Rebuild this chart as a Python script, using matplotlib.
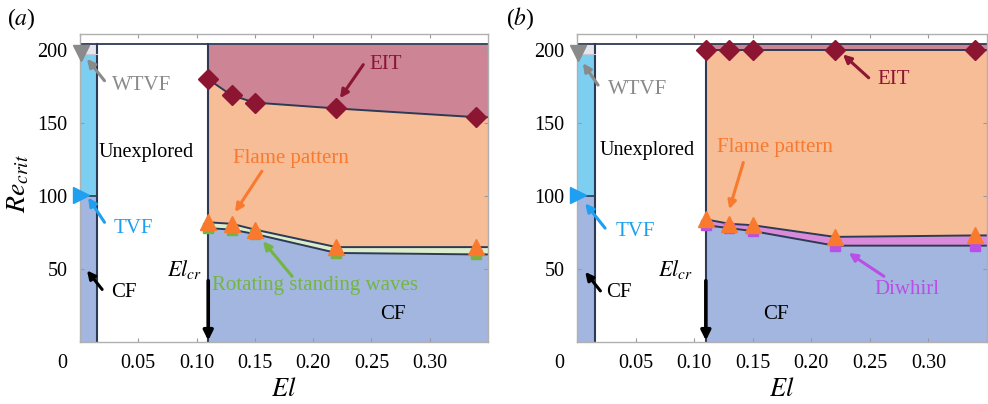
import numpy as np
import matplotlib.pyplot as plt
from matplotlib.transforms import ScaledTranslation

plt.rcParams['font.family'] = ['Liberation Serif', 'DejaVu Serif']
plt.rcParams['mathtext.fontset'] = 'stix'

# ---------------- data ----------------
El = [0.11, 0.13, 0.15, 0.22, 0.34]
# panel (a)
a_EIT = [180, 169, 164, 160, 154]
a_flame = [82, 81, 77, 65, 65]
a_rsw = [78, 77, 74, 61, 60]
# panel (b)
b_EIT = [200, 200, 200, 200, 200]
b_flame = [84, 81, 80, 72, 73]
b_diwhirl = [80, 78, 76, 66, 66]
# Newtonian (El = 0)
Re_TVF = 100
Re_WTVF = 197
xticks = [0, 0.05, 0.10, 0.15, 0.20, 0.25, 0.30]
xticklabels = ['0', '0.05', '0.10', '0.15', '0.20', '0.25', '0.30']
yticks = [50, 100, 150, 200]

# ---------------- style ----------------
XMAX, YMAX, RETOP, STRIP = 0.35, 211, 204, 0.015
C_CF = '#a2b6df'
C_TVF = '#7dcff2'
C_WTVF = '#e6e7ee'
C_FLAME = '#f6bd97'
C_EIT = '#cd8596'
C_RSW = '#dcedcc'
C_DIW = '#d98bd9'
NAVY = '#2c3a55'
DRED = '#8c1532'
ORANGE = '#f97a2e'
GREEN = '#74b542'
PURPLE = '#b94fe6'
BLUE = '#1f9ff0'
GRAY = '#8a8a8a'
FS = 15
TS = 14.5

fig = plt.figure(figsize=(9.88, 4.04), dpi=100)
axA = fig.add_axes([80/988, 62/404, 408/988, 308/404])
axB = fig.add_axes([577/988, 62/404, 410/988, 308/404])


def arrow(ax, tail, head, color, lw=2.2, ms=12):
    ax.annotate('', xy=head, xytext=tail,
                arrowprops=dict(arrowstyle='-|>', color=color, lw=lw,
                                mutation_scale=ms, shrinkA=0, shrinkB=0))


def panel(ax, eit, up, low, mid_color, sq_color):
    x = np.array(El + [XMAX])
    eit_e = np.array(eit + [eit[-1]])
    up_e = np.array(up + [up[-1]])
    low_e = np.array(low + [low[-1]])
    # Newtonian strip
    ax.fill_between([0, STRIP], 0, Re_TVF, color=C_CF, lw=0)
    ax.fill_between([0, STRIP], Re_TVF, Re_WTVF, color=C_TVF, lw=0)
    ax.fill_between([0, STRIP], Re_WTVF, RETOP, color=C_WTVF, lw=0)
    ax.plot([0, STRIP], [Re_TVF, Re_TVF], color=NAVY, lw=1.2)
    ax.plot([STRIP, STRIP], [0, RETOP], color=NAVY, lw=1.5)
    ax.plot([0, STRIP], [Re_WTVF, Re_WTVF], color='#c8c8d2', lw=0.8)
    # viscoelastic region
    ax.fill_between(x, 0, low_e, color=C_CF, lw=0)
    ax.fill_between(x, low_e, up_e, color=mid_color, lw=0)
    ax.fill_between(x, up_e, eit_e, color=C_FLAME, lw=0)
    ax.fill_between(x, eit_e, RETOP, color=C_EIT, lw=0)
    for yy in (low_e, up_e, eit_e):
        ax.plot(x, yy, color=NAVY, lw=1.4)
    ax.plot([El[0], El[0]], [0, RETOP], color=NAVY, lw=1.5)
    ax.plot([0, XMAX], [RETOP, RETOP], color=NAVY, lw=1.3)
    # markers
    ax.plot(El, low, 's', color=sq_color, ms=7, clip_on=False, zorder=4)
    ax.plot(El, up, '^', color=ORANGE, ms=11, clip_on=False, zorder=5)
    ax.plot(El, eit, 'D', color=DRED, ms=10, clip_on=False, zorder=5)
    ax.plot([0.001], [Re_WTVF + 1], 'v', color=GRAY, ms=11, clip_on=False, zorder=6)
    ax.plot([0.0005], [Re_TVF + 1], '>', color=BLUE, ms=11, clip_on=False, zorder=6)

    ax.set_xlim(0, XMAX)
    ax.set_ylim(0, YMAX)
    ax.set_xticks(xticks)
    ax.set_xticklabels(xticklabels)
    ax.set_yticks(yticks)
    ax.tick_params(direction='in', length=3, color='#999999', top=True,
                   right=True, labelsize=TS, pad=9)
    for s in ax.spines.values():
        s.set_color('#b0b0b0')
        s.set_linewidth(1.0)
    lab = ax.xaxis.get_major_ticks()[0].label1
    lab.set_transform(lab.get_transform() +
                      ScaledTranslation(-18/100, 0, fig.dpi_scale_trans))
    ax.set_xlabel('$El$', fontsize=19, labelpad=3)


panel(axA, a_EIT, a_flame, a_rsw, C_RSW, GREEN)
panel(axB, b_EIT, b_flame, b_diwhirl, C_DIW, PURPLE)

axA.set_ylabel('$Re_{crit}$', fontsize=20)
axA.yaxis.set_label_coords(-0.118, 0.515)

# ---------- annotations panel (a) ----------
ax = axA
ax.text(0.053, 176, 'WTVF', color=GRAY, fontsize=FS, ha='center', va='center')
arrow(ax, (0.021, 179), (0.006, 194), GRAY)
ax.text(0.046, 78, 'TVF', color=BLUE, fontsize=FS, ha='center', va='center')
arrow(ax, (0.021, 82), (0.007, 99), BLUE)
ax.text(0.038, 34, 'CF', color='black', fontsize=FS, ha='center', va='center')
arrow(ax, (0.019, 36), (0.006, 49), 'black')
ax.text(0.057, 130, 'Unexplored', color='black', fontsize=14.5, ha='center', va='center')
ax.text(0.1045, 50, '$El_{cr}$', color='black', fontsize=16, ha='right', va='center')
arrow(ax, (El[0], 42), (El[0], 1), 'black', lw=2.6, ms=14)
ax.text(0.262, 190, 'EIT', color=DRED, fontsize=FS, ha='center', va='center')
arrow(ax, (0.243, 190), (0.223, 167), DRED)
ax.text(0.181, 126, 'Flame pattern', color=ORANGE, fontsize=FS, ha='center', va='center')
arrow(ax, (0.156, 117), (0.133, 89), ORANGE)
ax.text(0.202, 38.5, 'Rotating standing waves', color=GREEN, fontsize=FS,
        ha='center', va='center')
arrow(ax, (0.182, 45), (0.157, 69), GREEN)
ax.text(0.268, 19, 'CF', color='black', fontsize=FS, ha='center', va='center')

# ---------- annotations panel (b) ----------
ax = axB
ax.text(0.052, 173, 'WTVF', color=GRAY, fontsize=FS, ha='center', va='center')
arrow(ax, (0.018, 176), (0.005, 191), GRAY)
ax.text(0.050, 76, 'TVF', color=BLUE, fontsize=FS, ha='center', va='center')
arrow(ax, (0.024, 78), (0.007, 95), BLUE)
ax.text(0.036, 34, 'CF', color='black', fontsize=FS, ha='center', va='center')
arrow(ax, (0.020, 35), (0.007, 48), 'black')
ax.text(0.060, 131, 'Unexplored', color='black', fontsize=14.5, ha='center', va='center')
ax.text(0.0995, 50, '$El_{cr}$', color='black', fontsize=16, ha='right', va='center')
arrow(ax, (El[0], 42), (El[0], 1), 'black', lw=2.6, ms=14)
ax.text(0.270, 180, 'EIT', color=DRED, fontsize=FS, ha='center', va='center')
arrow(ax, (0.249, 181), (0.227, 197), DRED)
ax.text(0.169, 133, 'Flame pattern', color=ORANGE, fontsize=FS, ha='center', va='center')
arrow(ax, (0.142, 123), (0.130, 91), ORANGE)
ax.text(0.282, 36, 'Diwhirl', color=PURPLE, fontsize=FS, ha='center', va='center')
arrow(ax, (0.262, 45), (0.232, 61), PURPLE)
ax.text(0.170, 19, 'CF', color='black', fontsize=FS, ha='center', va='center')

fig.text(7/988, 1 - 19/404, '($\\mathit{a}$)', fontsize=17, va='center', ha='left')
fig.text(506/988, 1 - 19/404, '($\\mathit{b}$)', fontsize=17, va='center', ha='left')

fig.savefig('out.png', dpi=100)
